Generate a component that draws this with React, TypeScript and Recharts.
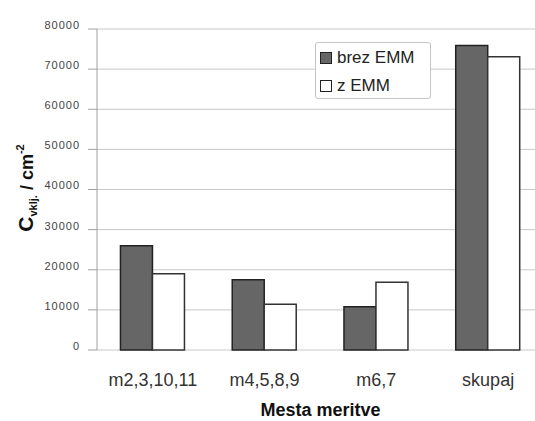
import React from 'react';
import { BarChart, Bar, XAxis, YAxis, CartesianGrid } from 'recharts';

const categories = ['m2,3,10,11', 'm4,5,8,9', 'm6,7', 'skupaj'];
const brezEmm = [26000, 17500, 10800, 75900];
const zEmm = [19000, 11400, 16900, 73100];
const yTicks = [0, 10000, 20000, 30000, 40000, 50000, 60000, 70000, 80000];
const boundaryTicks = [0, 1, 2, 3, 4];
const legendItems = [
  { label: 'brez EMM', fill: '#666' },
  { label: 'z EMM', fill: '#fff' },
];

const data = categories.map((name, i) => ({ name, idx: i + 0.5, brez: brezEmm[i], z: zEmm[i] }));

const FONT = '"Liberation Sans", Arial, sans-serif';

const YLabel = () => (
  <text
    x={33}
    y={188}
    transform="rotate(-90, 33, 188)"
    textAnchor="middle"
    fontFamily={FONT}
    fontWeight="bold"
    fill="#111"
  >
    <tspan fontSize={21}>C</tspan>
    <tspan fontSize={11} dy={4}>vklj.</tspan>
    <tspan fontSize={18} dy={-4}> / cm</tspan>
    <tspan fontSize={11} dy={-9}>-2</tspan>
  </text>
);

const XLabel = (props: any) => {
  const vb = props.viewBox || {};
  return (
    <text x={vb.x + vb.width / 2} y={416} textAnchor="middle" fontFamily={FONT} fontWeight="bold" fontSize={18} fill="#111">
      Mesta meritve
    </text>
  );
};

const LegendBox = () => (
  <div
    style={{
      position: 'absolute',
      left: 315,
      top: 42,
      width: 116,
      height: 57,
      boxSizing: 'border-box',
      border: '1px solid #c4c4c4',
      borderRadius: 3,
      background: '#fff',
      fontFamily: FONT,
      fontSize: 17,
      color: '#222',
      padding: '1px 0 0 4px',
    }}
  >
    {legendItems.map((it) => (
      <div key={it.label} style={{ display: 'flex', alignItems: 'center', height: 28 }}>
        <span
          style={{
            display: 'inline-block',
            boxSizing: 'border-box',
            width: 12,
            height: 12,
            background: it.fill,
            border: '1.5px solid #222',
            marginRight: 5,
          }}
        />
        {it.label}
      </div>
    ))}
  </div>
);

export default function App() {
  return (
    <div style={{ position: 'fixed', left: 0, top: 0, width: 535, height: 421, overflow: 'hidden', background: '#fff' }}>
      <BarChart
        width={548}
        height={421}
        data={data}
        margin={{ top: 29, right: 4, bottom: 41, left: 50 }}
        barCategoryGap="21%"
        barGap={0}
      >
        <CartesianGrid horizontal vertical={false} stroke="#c8c8c8" />
        <XAxis
          xAxisId="b"
          dataKey="idx"
          type="number"
          domain={[0, 4]}
          ticks={boundaryTicks}
          tick={false}
          height={0}
          stroke="#a0a0a0"
          tickSize={5}
        />
        <XAxis
          xAxisId="c"
          dataKey="name"
          height={30}
          axisLine={false}
          tickLine={false}
          tickSize={0}
          tickMargin={23}
          tick={{ fontSize: 18, fill: '#333', fontFamily: FONT }}
          label={<XLabel />}
        />
        <YAxis
          width={47}
          domain={[0, 80000]}
          ticks={yTicks}
          interval={0}
          stroke="#a0a0a0"
          tickSize={9}
          tickMargin={8}
          tick={{ fontSize: 11, fill: '#444', fontFamily: FONT, letterSpacing: 1, dy: -4 }}
          label={<YLabel />}
        />
        <Bar xAxisId="c" dataKey="brez" fill="#666" stroke="#222" strokeWidth={1.5} isAnimationActive={false} />
        <Bar xAxisId="c" dataKey="z" fill="#fff" stroke="#333" strokeWidth={1.5} isAnimationActive={false} />
      </BarChart>
      <LegendBox />
    </div>
  );
}
